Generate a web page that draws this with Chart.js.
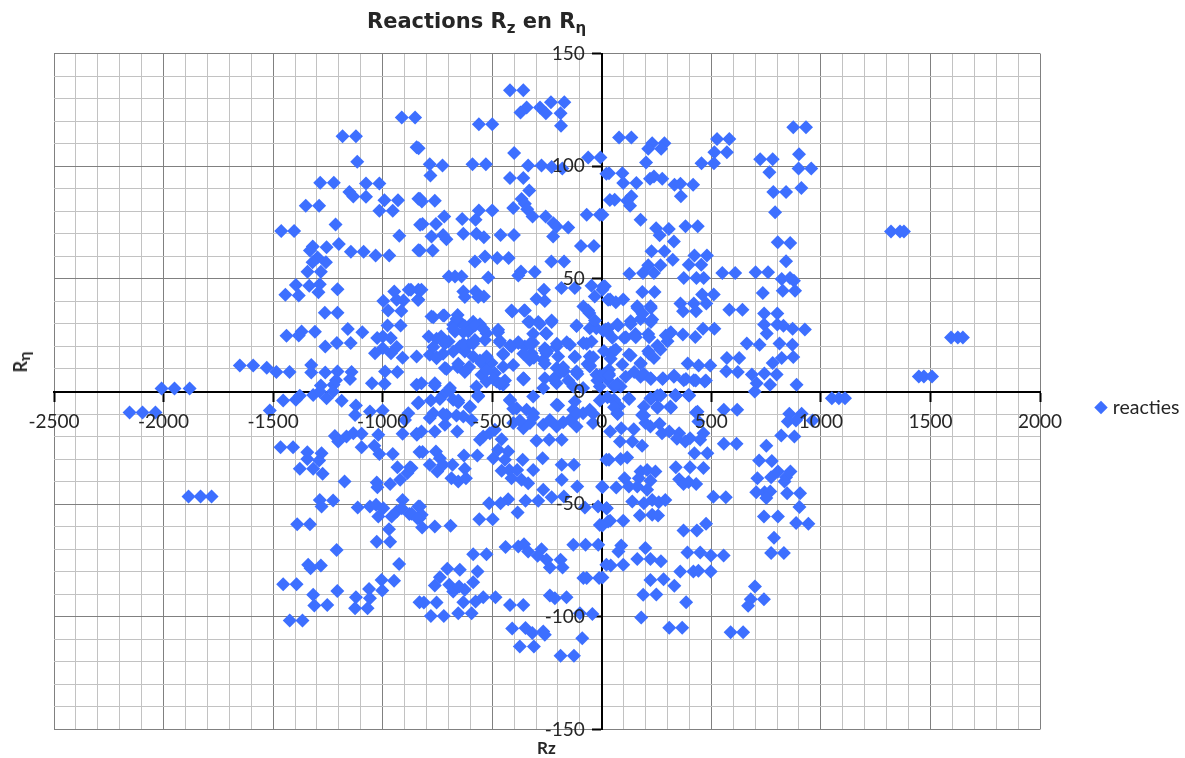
<!DOCTYPE html>
<html>
<head>
<meta charset="utf-8">
<script src="https://cdn.jsdelivr.net/npm/chart.js@4"></script>
<style>
html,body{margin:0;padding:0;background:#fff}
#wrap{position:relative;width:1185px;height:758px;overflow:hidden}
canvas{position:absolute;left:0;top:0}
.t{position:absolute;color:#262626;white-space:nowrap;font-weight:bold}
#title{left:367px;top:9px;font:bold 21px "DejaVu Sans"}
#title sub{font-size:15px;vertical-align:-5px;line-height:0}
#xt{left:537px;top:737px;font:bold 17px "Lato"}
#yt{left:20px;top:362px;font:bold 18px "Lato";transform:translate(-50%,-50%) rotate(-90deg)}
#yt sub{font-size:16px;vertical-align:-3px;line-height:0}
</style>
</head>
<body>
<div id="wrap">
<canvas id="c" width="1185" height="758"></canvas>
<div class="t" id="title">Reactions R<sub>z</sub> en R<sub>η</sub></div>
<div class="t" id="xt">Rz</div>
<div class="t" id="yt">R<sub>η</sub></div>
</div>
<script>
const seriesName = "reacties";
const xTickStep = 100, yTickStep = 10;

const upperFarLeft = [[-913,121.6],[-852,121.6],[-1183,113.3],[-1122,113.3],[-845,108.4],[-1116,102],[-1285,92.6],[-1223,92.6],[-1076,92.3],[-1015,92.3],[-1152,88.5],[-1134,86.5],[-1076,86.4],[-992,84.9],[-930,84.9],[-837,85.5],[-1015,80.2],[-954,80.2],[-1351,82.4],[-1290,82.4],[-1215,74.1],[-1463,71.2],[-1404,71.2],[-924,69.1],[-829,74],[-1319,64.3],[-1332,62.6],[-1256,64],[-1200,65.5],[-1145,62],[-1087,62],[-1032,60.4],[-970,60.4],[-837,62.7],[-1297,59.5],[-1320,57.4],[-1259,57.4],[-1282,53.1],[-1343,53.1],[-1396,47.3],[-1335,46.9],[-1287,47.6],[-1206,45.4],[-1444,42.9],[-1383,42.6],[-1293,44.1],[-947,44.4],[-881,45.1],[-837,45.1],[-997,40.2],[-936,40.7],[-905,40.4],[-837,40.7],[-975,36],[-915,35.7],[-1264,35],[-1206,35],[-978,29.3],[-918,29.3],[-1159,27.7],[-1093,26.3],[-1309,26.5],[-1370,26.6],[-1383,24.9],[-1439,24.7],[-1025,23.7],[-999,24.4],[-963,23.7],[-1209,21.5],[-1146,21.5],[-1262,20],[-1000,19.2],[-936,19.7],[-1035,17],[-962,17],[-909,15],[-845,15.5],[-1652,11.5],[-1591,11.5],[-1529,10.5],[-1485,8.7],[-1425,8.7],[-1326,11.8],[-1326,8.4],[-1262,8.4],[-1206,8.9],[-1142,8.6],[-1149,5.5],[-1213,5],[-989,8.9],[-933,8.6],[-1049,3.7],[-991,3.4],[-1282,2.7],[-1224,3],[-845,3],[-2009,1.3],[-1950,1.3],[-1881,1.3]];

const upperLeft = [[-419,133.7],[-358,133.7],[-232,128.4],[-171,128.4],[-343,126],[-371,123.8],[-282,126],[-255,123.5],[-188,123.5],[-186,117.9],[-561,118.6],[-500,118.6],[-836,108],[-400,105.8],[-62,103.8],[-6,103.8],[-785,100.9],[-727,100.3],[-590,100.9],[-529,100.9],[-336,100.3],[-275,100.3],[-229,99.6],[-180,99],[-782,95.9],[-419,94.7],[-358,94.7],[-331,89.2],[-830,85.5],[-821,84.3],[-762,84.6],[-366,85.4],[-351,83.3],[-404,81.4],[-340,80.9],[-561,80.3],[-500,80.3],[-576,76.2],[-637,76.6],[-719,77.7],[-316,77.7],[-256,77.7],[-221,74.7],[-818,74.3],[-757,74.3],[-69,78.4],[-9,78.4],[-153,72.8],[-206,73.2],[-632,70],[-572,70],[-538,68.5],[-462,69.5],[-401,69.5],[-724,69.5],[-709,67.6],[-777,68.8],[-222,68.8],[-830,62.6],[-772,62.6],[-95,64.6],[-36,64.6],[-533,59.9],[-579,57.7],[-477,59.2],[-425,59.2],[-230,57.7],[-172,57.7],[-698,51],[-640,51],[-670,51],[-518,50.6],[-369,53.3],[-381,51.5],[-306,53],[-823,45.1],[-839,40.7],[-871,45.1],[-632,44.4],[-576,44.4],[-625,41.9],[-538,42.2],[-564,41.9],[-264,45.1],[-184,45.9],[-123,45.9],[-47,46.9],[-32,42.2],[-298,41],[-260,40.2],[-412,36],[-351,36],[-84,37.7],[-57,34.8],[-777,33.3],[-719,33.7],[-658,34],[-335,31],[-290,30.8],[-229,31.5],[-115,29.1],[-55,28.1],[-25,28.1],[-587,31],[-556,29.9],[-678,29.6],[-648,31],[-625,29.1],[-670,26.6],[-609,26.6],[-473,27.4],[-255,25.9],[-313,25.6],[-526,25.9],[-790,24.4],[-733,24.4],[-699,22.2],[-533,22.9],[-465,22.5],[-579,22.9],[-648,20],[-609,20.7],[-678,17.8],[-724,16.7],[-785,16.3],[-754,14.8],[-625,17.8],[-587,15.5],[-381,21.5],[-412,20],[-351,20],[-313,21.5],[-321,17],[-450,16.3],[-260,19.2],[-206,20],[-145,20.7],[-84,21.5],[-47,22.2],[-253,17],[-199,15.5],[-123,15.5],[-55,15.5],[-267,14],[-329,14],[-526,15.5],[-549,12.6],[-503,12.6],[-404,11.8],[-450,11],[-716,10.4],[-658,10.9],[-605,10.9],[-115,8.9],[-55,11.1],[-206,10.4],[-549,7.4],[-488,8.1],[-526,4.4],[-480,4.4],[-358,5.9],[-260,5.9],[-199,7.4],[-823,3.7],[-762,3.7],[-693,1.5],[-450,3],[-24,7.4],[-572,2.2],[-130,2.2],[-267,1.5],[-206,3.7],[-85,1.5],[-9,2.2],[-20,4.9],[-65,12.2],[-111,7.8],[-172,9],[-248,18],[-355,5.7],[-310,15]];

const upperRight = [[874,117.3],[932,117.3],[79,112.7],[135,112.7],[526,112.1],[582,112.1],[230,110.2],[286,110.2],[212,107.7],[271,107.7],[514,106.2],[571,106.2],[900,105.3],[723,103.1],[780,103.1],[202,101.6],[455,101.3],[512,101.3],[898,99],[956,99],[33,96.9],[94,96.9],[765,97.3],[21,96.6],[220,94.4],[238,95.4],[276,94.4],[98,92.5],[158,92.5],[332,91.7],[359,92.2],[417,91.7],[911,90.3],[783,88.5],[841,88.5],[59,85.1],[116,84.6],[135,86.6],[129,82.4],[37,85],[361,86.6],[791,79.6],[177,76.2],[3,78.4],[382,73.3],[438,73.3],[248,72.5],[306,72.1],[264,69.3],[329,66.6],[803,66.2],[860,65.9],[227,62.2],[286,62.2],[841,57.8],[324,58.5],[423,60.3],[480,60.3],[397,56.3],[454,56.3],[268,56],[212,56],[188,52.6],[238,52.6],[126,52.3],[550,52.6],[609,52.6],[702,52.9],[759,52.9],[374,50.4],[432,50.4],[465,50.4],[821,49.9],[859,50.4],[877,49.2],[14,46.7],[3,45.2],[6,46.6],[826,44.7],[882,44.7],[185,44.2],[241,44.2],[735,43.7],[511,43],[458,43],[38,40.8],[64,39.6],[98,40.8],[29,40.7],[359,39],[420,39],[477,39],[162,37.8],[223,37.8],[371,35.6],[430,35.6],[582,36.3],[642,36.3],[741,34.6],[801,34.6],[741,29.7],[801,29.7],[829,29.2],[871,27.8],[927,27.5],[753,25.7],[230,31.9],[177,32.2],[132,31.2],[71,29.7],[18,27.5],[29,28],[462,27.8],[514,27.8],[314,26],[370,25.3],[427,24.2],[154,25.5],[212,25.5],[102,23.8],[48,23.8],[662,21.3],[720,20.8],[811,21.3],[870,20.8],[300,22.3],[268,18.6],[64,18.6],[41,17.1],[212,17.9],[124,16.4],[571,14.9],[627,14.9],[821,14.9],[874,15.3],[780,12.7],[238,14.9],[177,12.7],[392,12.4],[442,11.5],[495,11.5],[94,12],[33,9.7],[568,9],[621,8.6],[685,7.5],[742,8],[798,7.5],[109,6.6],[177,6.6],[223,5.9],[279,5.9],[329,6.6],[374,5],[420,5],[470,4.4],[707,3.7],[768,3],[889,3],[26,5.2],[86,2.2],[56,2.2],[21,8.1],[33,7.8],[72,3.4],[10,18],[41,16.6],[1320,71],[1361,71],[1379,71],[1594,24],[1625,24],[1648,24],[1447,6.7],[1470,6.7],[1507,6.7]];

const lowerFarLeft = [[-1515,-8.4],[-1454,-4],[-1396,-3.7],[-1378,-1.9],[-1317,-1.5],[-1287,0],[-1256,-3],[-1226,0],[-1187,-4.1],[-1122,-6.2],[-1126,-10.4],[-1058,-8.9],[-1000,-8.4],[-883,-9.6],[-898,-12.6],[-840,-5.2],[-1218,-19.7],[-1203,-22.2],[-1165,-20],[-1134,-18.5],[-1096,-18.8],[-1020,-19.2],[-909,-18.8],[-844,-19.2],[-1466,-24.7],[-1409,-24.7],[-1344,-27],[-1344,-30],[-1279,-27.4],[-1290,-30.6],[-1096,-24.7],[-1038,-24.1],[-1015,-27.7],[-954,-27.7],[-832,-26.9],[-1378,-34.3],[-1317,-34.3],[-1274,-36.5],[-933,-33.6],[-875,-33.6],[-887,-36.2],[-1174,-39.9],[-1027,-40.4],[-1024,-42.5],[-966,-41],[-920,-39.2],[-1287,-48.1],[-1226,-48.4],[-1279,-51],[-1114,-51.5],[-1058,-51],[-1030,-50.3],[-1020,-55.5],[-997,-51.8],[-959,-55.5],[-936,-53.3],[-909,-48.1],[-913,-51.8],[-878,-54.4],[-837,-51],[-832,-56.2],[-1390,-58.9],[-1332,-58.9],[-971,-61.1],[-1027,-66.7],[-966,-66.7],[-1210,-70.3],[-925,-76.5],[-1340,-76.9],[-1329,-78.4],[-1282,-77.2],[-1454,-85.5],[-1393,-85.5],[-1207,-88.5],[-1005,-83.6],[-948,-84],[-1062,-87.6],[-1002,-88.3],[-1317,-90.2],[-1312,-95],[-1253,-94.7],[-1122,-91.3],[-1058,-91.7],[-1126,-96.2],[-1069,-96.2],[-1424,-101.6],[-1366,-101.6],[-832,-93.5],[-2155,-9.3],[-2096,-9.3],[-2037,-9.3],[-1886,-46.6],[-1831,-46.6],[-1781,-46.6]];

const lowerLeft = [[-835,-4.9],[-780,-4],[-724,-1.5],[-655,-4.9],[-602,-6.7],[-564,-2.2],[-769,-9.6],[-785,-11.8],[-708,-10.4],[-716,-14.8],[-632,-11.1],[-762,-17.8],[-845,-18.8],[-823,-17.8],[-660,-17.8],[-594,-12.6],[-541,-20],[-511,-18.5],[-556,-21.4],[-457,-21.2],[-488,-17],[-818,-26.9],[-757,-26.6],[-629,-28.4],[-568,-28.4],[-739,-29.6],[-785,-32.5],[-724,-32.5],[-751,-35.5],[-681,-32.5],[-868,-34],[-625,-34.3],[-686,-38.5],[-655,-39.9],[-620,-38.5],[-473,-25.9],[-495,-29.6],[-427,-26.6],[-442,-30.3],[-457,-35.2],[-422,-34.8],[-361,-30.3],[-386,-34.8],[-412,-38.5],[-366,-39.2],[-336,-40.7],[-313,-34.8],[-270,-29.6],[-183,-32.5],[-127,-32.5],[-183,-39.2],[-112,-42.2],[2,-42.2],[-298,-21.9],[-240,-21.4],[-183,-21.4],[-267,-43.6],[-229,-46.9],[-173,-46.6],[-290,-48.5],[-348,-48.5],[-427,-47.8],[-462,-49.6],[-514,-49.6],[-384,-53.7],[-77,-51.5],[-17,-51],[-9,-59.2],[-559,-56.7],[-498,-56.7],[-830,-51],[-822,-54.7],[-868,-54.3],[-842,-56.2],[-820,-60.4],[-762,-59.9],[-690,-59.6],[-587,-72.2],[-526,-72.2],[-439,-69],[-381,-68.8],[-355,-67.8],[-336,-71],[-275,-70],[-293,-72.9],[-252,-74.7],[-237,-78.1],[-188,-74.7],[-179,-78.1],[-130,-68],[-74,-68],[-16,-68],[-705,-78.7],[-648,-79.1],[-567,-79.9],[-587,-84.6],[-739,-82.4],[-762,-86.1],[-696,-85.8],[-678,-88.8],[-651,-86.5],[-625,-88],[-84,-82.8],[-69,-82.8],[-12,-82.8],[-812,-93.6],[-754,-93.6],[-632,-93.5],[-576,-93.2],[-541,-91.3],[-485,-91.3],[-419,-94.7],[-358,-94.7],[-237,-90.5],[-214,-91.7],[-161,-91.3],[-780,-99.6],[-721,-99.6],[-655,-98.4],[-594,-98.4],[-100,-98.4],[-43,-98.7],[-409,-105.2],[-348,-105],[-317,-107.2],[-267,-106.5],[-260,-108],[-374,-113.2],[-310,-113.2],[-89,-109.5],[-188,-117.3],[-127,-117.3],[-419,-3.7],[-389,-7.4],[-343,-8.1],[-313,-9.6],[-358,-16.3],[-404,-14],[-267,-14.8],[-206,-5.9],[-206,-15.5],[-130,-8.1],[-85,-9.6],[-115,-15.5],[-40,-14],[-55,-8.1],[-237,-12.6],[-328,-14],[-145,-12.6],[-123,-4.4],[-313,-2.2],[-678,-3.7]];

const lowerRight = [[56,-3.7],[124,-3],[79,-6.7],[71,-9.6],[222,-3],[267,-1.5],[335,-1.5],[396,-1.5],[192,-6.7],[255,-6.7],[313,-6.7],[184,-10.4],[430,-9.3],[441,-13.3],[557,-8.1],[618,-8.1],[698,0],[856,-9.9],[912,-9.9],[849,-13.3],[886,-12.9],[962,-12.9],[199,-14],[264,-14.3],[222,-15.5],[275,-18.5],[308,-17.8],[353,-18.5],[403,-20.7],[449,-21.4],[464,-18.5],[343,-21],[381,-22.2],[38,-17.8],[89,-16.3],[146,-16.7],[83,-22.2],[139,-22.2],[184,-24.1],[819,-19.5],[879,-20],[751,-24.1],[557,-23.2],[615,-23.2],[423,-27.4],[482,-27.4],[33,-30.3],[86,-30],[116,-29.3],[21,-30.3],[718,-30.6],[776,-30.8],[338,-33.6],[403,-33.6],[464,-34],[177,-35.5],[207,-34.8],[245,-35.5],[104,-38.5],[353,-38.9],[373,-41.1],[396,-40.2],[431,-41.1],[710,-38.5],[773,-38],[804,-35.5],[841,-38],[861,-35.5],[834,-39.9],[3,-42.5],[66,-42.6],[124,-42.2],[169,-38.5],[222,-39.6],[162,-42.2],[207,-43.6],[705,-44.7],[743,-44.7],[769,-44.4],[751,-47.3],[846,-45.1],[905,-45.1],[509,-46.7],[566,-46.9],[139,-48.8],[192,-49.6],[230,-48.1],[260,-49.1],[290,-48.1],[23,-51.8],[21,-51.8],[902,-51.3],[174,-55],[230,-54.7],[257,-55],[740,-55.5],[804,-55.5],[38,-57.4],[98,-57.4],[29,-57.7],[887,-58.4],[943,-58.7],[3,-59.5],[373,-61.7],[434,-61.7],[476,-58.7],[786,-64.9],[89,-68.3],[76,-71],[199,-69.5],[773,-71.7],[831,-71.7],[391,-71.4],[449,-71.4],[498,-72.8],[556,-72.8],[162,-74.3],[222,-74.3],[270,-75.3],[41,-77.2],[98,-76.9],[21,-76.9],[358,-79.9],[418,-79.9],[441,-79.6],[497,-79.9],[3,-82.5],[222,-83.6],[282,-83.3],[331,-86.2],[699,-86.5],[189,-90.2],[249,-90.1],[680,-92.2],[740,-92.2],[668,-95.1],[385,-93.5],[180,-100.3],[308,-104.9],[367,-104.9],[588,-106.8],[645,-106.8],[1050,-3],[1082,-3],[1110,-3],[56,-4],[254,-1.8],[315,-7],[338,-1.8],[398,-1.8],[437,-9]];

const centreBand = [[-409,35.5],[-354,35.9],[-328,30.8],[-283,30],[-229,30.8],[-724,33.7],[-769,33],[-663,32.2],[-678,27.8],[-632,26.3],[-579,29.3],[-541,27.8],[-473,26.3],[-465,21.9],[-754,23.4],[-716,21.2],[-769,19.7],[-632,21.2],[-587,21.2],[-381,21.9],[-419,20.4],[-328,21.2],[-252,25.6],[-260,18.2],[-205,21.2],[-160,21.9],[-115,29.3],[-62,35.9],[-31,31.5],[-69,21.2],[7,27],[-313,15.2],[-358,16.7],[-450,16.7],[-525,15.2],[-556,13.8],[-754,15.2],[-709,10],[-655,12.3],[-625,8.6],[-526,9.3],[-495,5.6],[-442,4.9],[-358,5.3],[-260,12.3],[-176,10.8],[-123,15.2],[-115,8.6],[-39,15.2],[-221,5.6],[-153,4.9],[-9,7.1],[-54,11.5],[-762,2.7],[-694,0.4],[-564,-1.8],[-419,-4],[-465,3.4],[-739,-3.3],[-655,-4],[-602,-7],[-663,-10.7],[-724,-10],[-404,-7.7],[-374,-12.9],[-313,-11.4],[-199,-6.2],[-115,-9.9],[-9,-4],[-39,-9.9],[-176,-13.6],[163,37.1],[224,37.1],[75,29.3],[132,30],[186,34.5],[224,30.8],[110,24.1],[155,24.1],[216,24.1],[26,26.3],[56,18.2],[132,16],[216,16.7],[254,20.4],[292,24.9],[315,26.3],[178,12.3],[41,14.5],[11,7.8],[64,2.7],[277,5.6],[330,7.1],[384,5.6],[429,4.9],[475,4.9],[148,8.6],[193,7.8],[224,5.6],[33,7.1],[125,-3.3],[224,-3.3],[269,-1.8],[338,-1.8],[399,-1.8],[56,-7],[254,-7.2],[315,-7.2],[193,-10.7],[72,-10],[26,-2.5]];

const reacties = [...upperFarLeft, ...upperLeft, ...upperRight, ...lowerFarLeft, ...lowerLeft, ...lowerRight, ...centreBand];

const placeLegend = {
  id: "placeLegend",
  afterLayout(chart) {
    const l = chart.legend, dy = 16;
    const w = l.right - l.left;
    l.top += dy; l.bottom += dy;
    l.left = 1099 - l.options.labels.padding;
    l.right = l.left + w;
  }
};

// Value labels of the vertical axis sit to the left of the crossing axis.
function labelsLeftOfAxis(scale) {
  if (scale._leftLabels) return;
  scale._leftLabels = true;
  const compute = scale._computeLabelItems.bind(scale);
  scale._computeLabelItems = (area) => {
    const items = compute(area);
    items.forEach(it => {
      it.options.textAlign = "right";
      it.options.translation = [it.options.translation[0] - 17, it.options.translation[1]];
    });
    return items;
  };
  scale._labelItems = null;
}

const GREY_MAJOR = "#808080", GREY_MINOR = "#c2c2c2";
const axisCommon = (major) => ({
  type: "linear",
  grid: {
    color: c => (c.tick && c.tick.value % major === 0) ? GREY_MAJOR : GREY_MINOR,
    lineWidth: 1,
    tickColor: c => (c.tick && c.tick.value % major === 0) ? "#000" : "rgba(0,0,0,0)",
    tickWidth: 2,
    tickLength: 9
  },
  border: { display: true, color: "#000", width: 2 }
});

new Chart(document.getElementById("c"), {
  type: "scatter",
  data: {
    datasets: [{
      label: seriesName,
      data: reacties.map(([x, y]) => ({ x, y })),
      pointStyle: "rectRot",
      radius: 7,
      borderWidth: 0,
      backgroundColor: "#3D6FFF",
      borderColor: "#3D6FFF",
      hoverRadius: 7
    }]
  },
  options: {
    responsive: false,
    animation: false,
    layout: { padding: { left: 54, top: 53.5, right: 44.5, bottom: 28.5 } },
    plugins: {
      title: { display: false },
      tooltip: { enabled: false },
      legend: {
        display: true,
        position: "right",
        labels: {
          usePointStyle: true,
          boxWidth: 4,
          boxHeight: 9.5,
          padding: 10,
          color: "#262626",
          font: { family: "Lato", size: 19.5 }
        }
      }
    },
    scales: {
      x: {
        ...axisCommon(500),
        position: { y: 0 },
        min: -2500, max: 2000,
        ticks: {
          stepSize: xTickStep, autoSkip: false, maxRotation: 0, padding: 10, z: 1,
          color: "#262626", font: { family: "Lato", size: 19 },
          callback: v => v % 500 === 0 ? String(v) : ""
        }
      },
      y: {
        ...axisCommon(50),
        position: { x: 0 },
        min: -150, max: 150,
        afterUpdate: labelsLeftOfAxis,
        ticks: {
          stepSize: yTickStep, autoSkip: false, padding: 8, z: 1,
          color: "#262626", font: { family: "Lato", size: 19 },
          callback: v => v % 50 === 0 ? String(v) : ""
        }
      }
    }
  },
  plugins: [placeLegend]
});
</script>
</body>
</html>
